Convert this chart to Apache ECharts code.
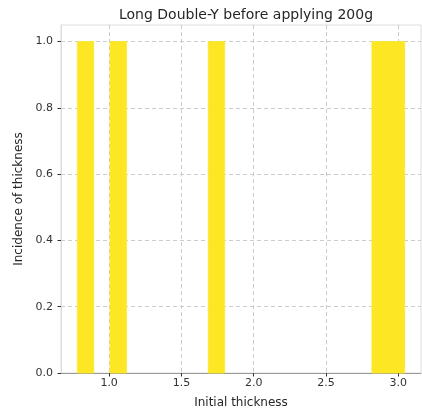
<!DOCTYPE html>
<html><head><meta charset="utf-8">
<script src="https://cdn.jsdelivr.net/npm/echarts@6/dist/echarts.min.js"></script>
<style>html,body{margin:0;padding:0;background:#fff}#c{width:422px;height:414px}</style>
</head><body><div id="c"></div>
<script>
const binEdges = [0.78,0.8933,1.0065,1.1198,1.2330,1.3463,1.4595,1.5728,1.6860,1.7993,1.9125,2.0258,2.1390,2.2523,2.3655,2.4788,2.5920,2.7053,2.8185,2.9318,3.045];
const counts = [1,0,1,0,0,0,0,0,1,0,0,0,0,0,0,0,0,0,1,1];
const xTicks = [1.0,1.5,2.0,2.5,3.0];
const yTicks = [0.0,0.2,0.4,0.6,0.8,1.0];

const data = counts.map((c,i)=>[binEdges[i],binEdges[i+1],c]);
const chart = echarts.init(document.getElementById('c'));
const font = 'DejaVu Sans';
chart.setOption({
  animation:false,
  title:{text:'Long Double-Y before applying 200g',left:241,textAlign:'center',top:3,
    textStyle:{fontFamily:font,fontSize:14,fontWeight:'normal',color:'#262626'}},
  grid:{left:61,right:1,top:25,bottom:39,show:true,borderColor:'#dddddd',borderWidth:1},
  xAxis:{type:'value',min:0.667,max:3.158,
    name:'Initial thickness',nameLocation:'middle',nameGap:24,
    nameTextStyle:{fontFamily:font,fontSize:12,color:'#262626'},
    axisLine:{show:true,lineStyle:{color:'#999999'}},
    axisTick:{show:true,customValues:xTicks,length:3.5,lineStyle:{color:'#333'}},
    axisLabel:{customValues:xTicks,fontFamily:font,fontSize:11,color:'#333333',margin:5,formatter:v=>v.toFixed(1)},
    splitLine:{show:true,customValues:xTicks,lineStyle:{color:'#cccccc',type:[4,3]}}},
  yAxis:{type:'value',min:0,max:1.05,
    name:'Incidence of thickness',nameLocation:'middle',nameGap:36,
    nameTextStyle:{fontFamily:font,fontSize:12,color:'#262626'},
    axisLine:{show:true,lineStyle:{color:'#dddddd'}},
    axisTick:{show:true,customValues:yTicks,length:3.5,lineStyle:{color:'#333'}},
    axisLabel:{customValues:yTicks,fontFamily:font,fontSize:11,color:'#333333',margin:8,formatter:v=>v.toFixed(1)},
    splitLine:{show:true,customValues:yTicks,lineStyle:{color:'#cccccc',type:[4,3]}}},
  series:[{type:'custom',data:data,
    renderItem:(params,api)=>{
      if (!(api.value(2) > 0)) return null;
      const p0=api.coord([api.value(0),api.value(2)]);
      const p1=api.coord([api.value(1),0]);
      return {type:'rect',shape:{x:p0[0],y:p0[1],width:p1[0]-p0[0],height:p1[1]-p0[1]},
        style:{fill:'#FDE725',stroke:'#FDE725',lineWidth:0.8}};
    },encode:{x:[0,1],y:2}}]
});
</script></body></html>
